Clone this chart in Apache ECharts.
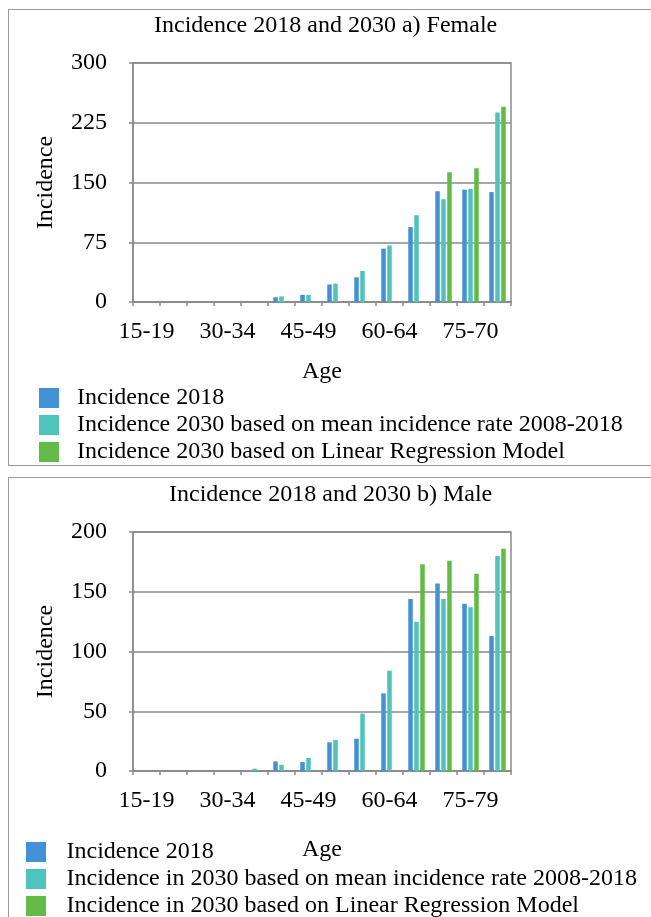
<!DOCTYPE html>
<html>
<head>
    <meta charset="utf-8"/>
    <title>Incidence 2018 and 2030</title>
    <script type="text/javascript" src="https://cdn.jsdelivr.net/npm/echarts@6/dist/echarts.min.js"></script>
    <style>
        body { margin: 0; background: #fff; width: 651px; height: 917px; overflow: hidden; position: relative; }
        .box { position: absolute; left: 8px; width: 700px; border: 1.5px solid #9a9a9a; }
        .chart { position: absolute; left: 0; width: 651px; }
    </style>
</head>
<body>
<div class="box" style="top: 9px; height: 455px;"></div>
<div class="box" style="top: 477px; height: 500px;"></div>
<div id="female" class="chart" style="top: 0; height: 474px;"></div>
<div id="male" class="chart" style="top: 468px; height: 520px;"></div>

<script type="text/javascript">
    // age groups (female chart has the "75-70" label as printed)
    var agesFemale = ['15-19','20-24','25-29','30-34','35-39','40-44','45-49','50-54','55-59','60-64','65-69','70-74','75-70','80-84'];
    var agesMale   = ['15-19','20-24','25-29','30-34','35-39','40-44','45-49','50-54','55-59','60-64','65-69','70-74','75-79','80-84'];

    // female values
    var f2018     = [0, 0, 0, 0, 0, 6, 9, 22, 31, 67, 94, 139, 141, 138];
    var f2030Mean = [0, 0, 0, 0, 0, 7, 9, 23, 39, 71, 109, 129, 142, 238];
    var f2030Lin  = [0, 0, 0, 0, 0, 0, 0, 0, 0, 0, 0, 163, 168, 245];

    // male values
    var m2018     = [0, 0, 0, 0, 0, 8, 7.5, 24, 27, 65, 144, 157, 140, 113];
    var m2030Mean = [0, 0, 0, 0, 2, 5, 11, 26, 48, 84, 125, 144, 137, 180];
    var m2030Lin  = [0, 0, 0, 0, 0, 0, 0, 0, 0, 0, 173, 176, 165, 186];

    var serif = "'Liberation Serif', 'Times New Roman', serif";
    var colors = ['#4291d6', '#4ec3bc', '#62bb46'];
    var gridColor = '#8a8a8a';

    function makeOption(t) {
        var names = t.names;
        var barDefaults = { type: 'bar', barWidth: 4.5, barGap: '33%', animation: false };
        return {
            textStyle: { fontFamily: serif, color: '#000' },
            title: {
                text: t.title, left: t.titleLeft, top: t.titleTop,
                textStyle: { fontFamily: serif, fontSize: 24, fontWeight: 'normal', color: '#000' }
            },
            color: colors,
            legend: {
                orient: 'vertical', left: t.legendLeft, top: t.legendTop,
                padding: 0,
                itemWidth: 20, itemHeight: 20, itemGap: 3,
                icon: 'rect',
                selectedMode: false,
                textStyle: { fontFamily: serif, fontSize: 24, color: '#000', lineHeight: 24,
                             padding: [0, 0, 0, t.legendPad] },
                data: names
            },
            grid: { left: 133, top: t.gridTop, width: 378, height: 239, show: true,
                    borderColor: gridColor, borderWidth: 1.5 },
            xAxis: {
                type: 'category', data: t.ages,
                name: 'Age', nameLocation: 'middle', nameGap: t.xNameGap,
                nameTextStyle: { fontFamily: serif, fontSize: 24, color: '#000' },
                axisLine: { lineStyle: { color: gridColor, width: 1.5 } },
                axisTick: { show: true, length: 4, interval: 0, lineStyle: { color: gridColor, width: 1.5 } },
                axisLabel: { interval: 2, margin: 18, fontFamily: serif, fontSize: 24, color: '#000' }
            },
            yAxis: {
                type: 'value', min: 0, max: t.yMax, interval: t.yStep,
                name: 'Incidence', nameLocation: 'middle', nameGap: 75,
                nameTextStyle: { fontFamily: serif, fontSize: 24, color: '#000' },
                axisLine: { show: true, lineStyle: { color: gridColor, width: 1.5 } },
                axisTick: { show: true, length: 4, lineStyle: { color: gridColor, width: 1.5 } },
                axisLabel: { margin: 26, fontFamily: serif, fontSize: 24, color: '#000' },
                splitLine: { lineStyle: { color: gridColor, width: 1.5 } }
            },
            series: [
                Object.assign({ name: names[0], data: t.s1 }, barDefaults),
                Object.assign({ name: names[1], data: t.s2 }, barDefaults),
                Object.assign({ name: names[2], data: t.s3 }, barDefaults)
            ]
        };
    }

    var femaleChart = echarts.init(document.getElementById('female'));
    femaleChart.setOption(makeOption({
        title: 'Incidence 2018 and 2030 a) Female', titleLeft: 149, titleTop: 9,
        names: ['Incidence 2018',
                'Incidence 2030 based on mean incidence rate 2008-2018',
                'Incidence 2030 based on Linear Regression Model'],
        legendLeft: 39, legendTop: 386, legendPad: 13,
        gridTop: 63, xNameGap: 58,
        ages: agesFemale, yMax: 300, yStep: 75,
        s1: f2018, s2: f2030Mean, s3: f2030Lin
    }));

    var maleChart = echarts.init(document.getElementById('male'));
    maleChart.setOption(makeOption({
        title: 'Incidence 2018 and 2030 b) Male', titleLeft: 164, titleTop: 10,
        names: ['Incidence 2018',
                'Incidence in 2030 based on mean incidence rate 2008-2018',
                'Incidence in 2030 based on Linear Regression Model'],
        legendLeft: 26, legendTop: 372, legendPad: 15.5,
        gridTop: 64, xNameGap: 67,
        ages: agesMale, yMax: 200, yStep: 50,
        s1: m2018, s2: m2030Mean, s3: m2030Lin
    }));
</script>
</body>
</html>
